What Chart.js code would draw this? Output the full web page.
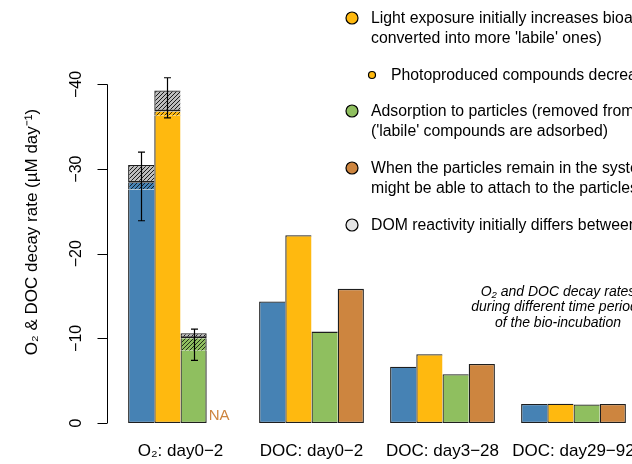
<!DOCTYPE html>
<html>
<head>
<meta charset="utf-8">
<script src="https://cdn.jsdelivr.net/npm/chart.js@4.4.1/dist/chart.umd.min.js"></script>
<style>
  html, body { margin: 0; padding: 0; background: #fff; overflow: hidden; }
  #wrap { width: 632px; height: 464px; overflow: hidden; }
</style>
</head>
<body>
<div id="wrap"><canvas id="decay" width="700" height="464"></canvas></div>
<script>
// categories on the x axis
const categories = ['O\u2082: day0\u22122', 'DOC: day0\u22122', 'DOC: day3\u221228', 'DOC: day29\u221292'];

// decay rates (uM per day), negative = consumption
const blueRate = [-27.6, -14.35, -6.66, -2.25];
const yellowRate = [-36.3, -22.2, -8.13, -2.28];
const greenRate = [-8.55, -10.8, -5.76, -2.2];
const orangeRate = [null, -15.85, -6.98, -2.25];

// O2 bars only (blue, yellow, green): hatched layers and error bars
const o2Mid = [-28.4, -36.8, -10.0];
const o2Top = [-30.5, -39.3, -10.6];
const o2ErrHigh = [-32.0, -40.8, -11.1];
const o2ErrLow = [-23.9, -36.05, -7.4];

const yTicks = [0, -10, -20, -30, -40];

const FONT = '"Liberation Sans", Arial, Helvetica, sans-serif';
const EDGE = '#1e1e1e';
const BW = 1.3;

function hatch(bg, line) {
  const s = 4;
  const c = document.createElement('canvas');
  c.width = s; c.height = s;
  const g = c.getContext('2d');
  g.fillStyle = bg;
  g.fillRect(0, 0, s, s);
  g.strokeStyle = line;
  g.lineWidth = 1;
  g.beginPath();
  g.moveTo(0, s); g.lineTo(s, 0);
  g.moveTo(-1, 1); g.lineTo(1, -1);
  g.moveTo(s - 1, s + 1); g.lineTo(s + 1, s - 1);
  g.stroke();
  return g.createPattern(c, 'repeat');
}

const treatments = [
  { key: 'blue', color: '#4682B4', rate: blueRate },
  { key: 'yellow', color: '#FFB90F', rate: yellowRate },
  { key: 'green', color: '#8FBF5F', rate: greenRate },
  { key: 'orange', color: '#CD853F', rate: orangeRate }
];

const grayHatch = hatch('#bdbdbd', '#1a1a1a');
const solidIndex = [];
const datasets = [];

treatments.forEach((t, k) => {
  const hasHatch = k < 3;
  const lastInGroup = (i) => k === 3 || (k === 2 && i === 0);
  solidIndex.push(datasets.length);
  datasets.push({
    data: t.rate,
    stack: t.key,
    backgroundColor: t.color,
    borderColor: EDGE,
    borderSkipped: false,
    borderWidth: (ctx) => ({
      left: BW,
      right: lastInGroup(ctx.dataIndex) ? BW : 0,
      bottom: BW,
      top: hasHatch && ctx.dataIndex === 0 ? 0 : BW
    })
  });
  if (hasHatch) {
    datasets.push({
      data: [[t.rate[0], o2Mid[k]], null, null, null],
      stack: t.key,
      backgroundColor: hatch(t.color, 'rgba(0,0,0,0.75)'),
      borderColor: EDGE,
      borderSkipped: false,
      borderWidth: { left: BW, right: k === 2 ? BW : 0, top: 0, bottom: 0 }
    });
    datasets.push({
      data: [[o2Mid[k], o2Top[k]], null, null, null],
      stack: t.key,
      backgroundColor: grayHatch,
      borderColor: EDGE,
      borderSkipped: false,
      borderWidth: { left: BW, right: k === 2 ? BW : 0, top: BW, bottom: 2 }
    });
  }
});

const yAxisLine = {
  id: 'yAxisLine',
  afterDraw(chart) {
    const { ctx, chartArea, scales: { y } } = chart;
    const x = Math.round(chartArea.left - 8) + 0.5;
    ctx.save();
    ctx.strokeStyle = '#000';
    ctx.lineWidth = 1;
    ctx.beginPath();
    ctx.moveTo(x, y.getPixelForValue(yTicks[yTicks.length - 1]));
    ctx.lineTo(x, y.getPixelForValue(0));
    yTicks.forEach(v => {
      const py = Math.round(y.getPixelForValue(v)) + 0.5;
      ctx.moveTo(x, py);
      ctx.lineTo(x - 10, py);
    });
    ctx.stroke();
    ctx.restore();
  }
};

const errorBars = {
  id: 'errorBars',
  afterDatasetsDraw(chart) {
    const { ctx, scales: { y } } = chart;
    ctx.save();
    ctx.strokeStyle = '#000';
    ctx.lineWidth = 1.2;
    for (let k = 0; k < 3; k++) {
      const el = chart.getDatasetMeta(solidIndex[k]).data[0];
      const x = Math.round(el.x) + 0.5;
      const y1 = y.getPixelForValue(o2ErrHigh[k]);
      const y2 = y.getPixelForValue(o2ErrLow[k]);
      ctx.beginPath();
      ctx.moveTo(x, y1); ctx.lineTo(x, y2);
      ctx.moveTo(x - 3.5, y1); ctx.lineTo(x + 3.5, y1);
      ctx.moveTo(x - 3.5, y2); ctx.lineTo(x + 3.5, y2);
      ctx.stroke();
    }
    // missing value marker in the empty orange slot
    const g = chart.getDatasetMeta(solidIndex[2]).data[0];
    ctx.fillStyle = '#CD853F';
    ctx.font = '15px ' + FONT;
    ctx.textBaseline = 'alphabetic';
    ctx.fillText('NA', g.x + g.width / 2 + 2, y.getPixelForValue(0) - 3);
    ctx.restore();
  }
};

const notes = {
  id: 'notes',
  afterDraw(chart) {
    const { ctx } = chart;
    ctx.save();
    const items = [
      { y: 18, r: 6, x: 352, tx: 371, fill: '#FFB90F', lines: ['Light exposure initially increases bioavailability (recalcitrant compounds are', 'converted into more \'labile\' ones)'] },
      { y: 75, r: 3.5, x: 372, tx: 391, fill: '#FFB90F', lines: ['Photoproduced compounds decrease in reactivity over time'] },
      { y: 111, r: 6, x: 352, tx: 371, fill: '#8FBF5F', lines: ['Adsorption to particles (removed from the dissolved pool)', '(\'labile\' compounds are adsorbed)'] },
      { y: 168, r: 6, x: 352, tx: 371, fill: '#CD853F', lines: ['When the particles remain in the system, microbes', 'might be able to attach to the particles'] },
      { y: 225, r: 6, x: 352, tx: 371, fill: '#E5E5E5', lines: ['DOM reactivity initially differs between treatments'] }
    ];
    ctx.font = '15.8px ' + FONT;
    ctx.textBaseline = 'middle';
    ctx.textAlign = 'left';
    items.forEach(it => {
      ctx.beginPath();
      ctx.arc(it.x, it.y, it.r, 0, Math.PI * 2);
      ctx.fillStyle = it.fill;
      ctx.fill();
      ctx.lineWidth = 1.2;
      ctx.strokeStyle = '#000';
      ctx.stroke();
      ctx.fillStyle = '#000';
      it.lines.forEach((s, i) => ctx.fillText(s, it.tx, it.y + 1 + i * 20));
    });
    ctx.font = 'italic 14px ' + FONT;
    ctx.textAlign = 'center';
    ['O\u2082 and DOC decay rates', 'during different time periods', 'of the bio-incubation']
      .forEach((s, i) => ctx.fillText(s, 558, 292 + i * 15.5));
    ctx.restore();
  }
};

new Chart(document.getElementById('decay'), {
  type: 'bar',
  data: { labels: categories, datasets },
  plugins: [yAxisLine, errorBars, notes],
  options: {
    responsive: false,
    animation: false,
    devicePixelRatio: 1,
    layout: { padding: { left: 0, top: 41, right: 61, bottom: 0 } },
    datasets: { bar: { barPercentage: 1, categoryPercentage: 0.8 } },
    plugins: { legend: { display: false }, tooltip: { enabled: false } },
    scales: {
      x: {
        grid: { display: false, drawTicks: false },
        border: { display: false },
        ticks: { color: '#000', font: { family: FONT, size: 17 }, padding: 18 },
        afterFit: (s) => { s.height = 41; }
      },
      y: {
        reverse: true,
        stacked: false,
        min: -45.14,
        max: 0,
        grid: { display: false, drawTicks: false },
        border: { display: false },
        afterBuildTicks: (s) => { s.ticks = yTicks.map(v => ({ value: v })); },
        afterFit: (s) => { s.width = 115; },
        ticks: {
          color: '#000',
          font: { family: FONT, size: 16 },
          minRotation: 90,
          maxRotation: 90,
          crossAlign: 'center',
          padding: 25,
          callback: (v) => (v === 0 ? '0' : '\u2212' + Math.abs(v))
        },
        title: {
          display: true,
          text: 'O\u2082 & DOC decay rate (\u00b5M day\u207b\u00b9)',
          color: '#000',
          font: { family: FONT, size: 17 },
          padding: { top: 22, bottom: 0 }
        }
      }
    }
  }
});
</script>
</body>
</html>
